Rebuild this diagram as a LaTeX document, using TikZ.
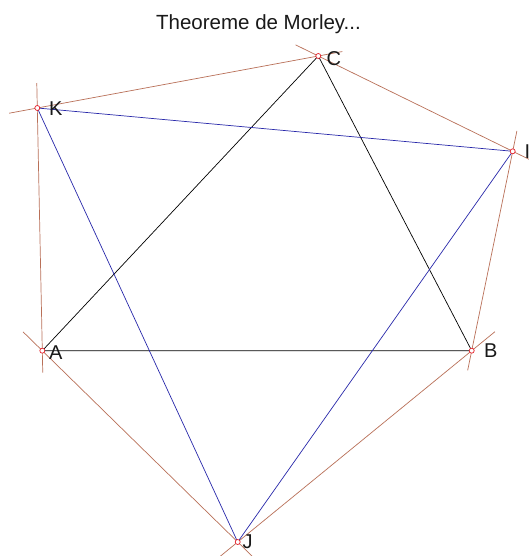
\documentclass[tikz,border=0pt]{standalone}
\usepackage{fontspec}
\setmainfont{Liberation Sans}
\definecolor{brn}{RGB}{185,112,88}
\definecolor{blu}{RGB}{40,40,170}
\definecolor{ptred}{RGB}{230,30,40}
\begin{document}
\begin{tikzpicture}[x=1pt,y=-1pt,
  ext/.style={draw=brn,line width=0.7pt},
  tri/.style={draw=black,line width=0.7pt},
  mor/.style={draw=blu,line width=0.7pt},
  ptmark/.style={circle,draw=ptred,fill=white,line width=0.7pt,inner sep=0pt,minimum size=5pt},
  lab/.style={anchor=west,inner sep=0pt,font=\fontsize{20}{24}\selectfont,text=black!90}]
\useasboundingbox (0,0) rectangle (529,556);
\clip (0,0) rectangle (529,556);
\fill[white] (0,0) rectangle (529,556);
\coordinate (A) at (42.3,350.7);
\coordinate (B) at (471.7,350.7);
\coordinate (C) at (318.3,56);
\coordinate (K) at (37.3,108);
\coordinate (I) at (512.7,151.3);
\coordinate (J) at (237.7,542);
% extended trisector lines
\draw[ext,shorten <=-28.7pt,shorten >=-24.4pt] (K) -- (C);
\draw[ext,shorten <=-25.4pt,shorten >=-25pt] (C) -- (I);
\draw[ext,shorten <=-25pt,shorten >=-22pt] (K) -- (A);
\draw[ext,shorten <=-20.8pt,shorten >=-20pt] (I) -- (B);
\draw[ext,shorten <=-30pt,shorten >=-30pt] (B) -- (J);
\draw[ext,shorten <=-27pt,shorten >=-30pt] (A) -- (J);
% triangle
\draw[tri] (A) -- (B) -- (C) -- cycle;
% Morley triangle
\draw[mor] (K) -- (I) -- (J) -- cycle;
% points
\foreach \p in {A,B,C,K,I,J} \node[ptmark] (m\p) at (\p) {};
% labels
\node[lab] (lA) at (49,353) {A};
\node[lab] (lB) at (484,350.5) {B};
\node[lab] (lC) at (326.5,58.5) {C};
\node[lab] (lK) at (49,108.5) {K};
\node[lab] (lI) at (524.5,152) {I};
\node[lab] (lJ) at (242.5,542) {J};
\node[anchor=base,inner sep=0pt,font=\fontsize{20.5}{24}\selectfont,text=black!90] (title) at (258.5,30) {Theoreme de Morley...};
\end{tikzpicture}
\end{document}
